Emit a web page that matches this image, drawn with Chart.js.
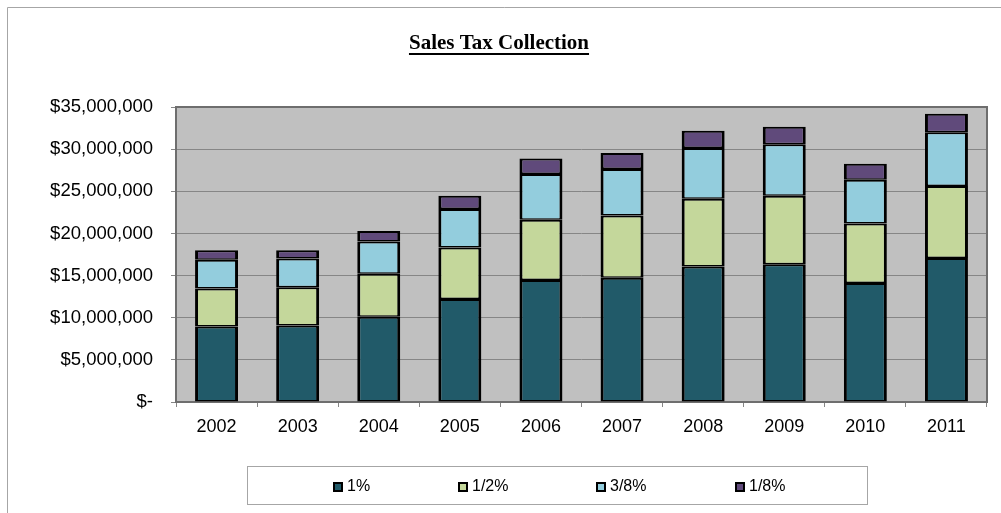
<!DOCTYPE html>
<html>
<head>
<meta charset="utf-8">
<title>Sales Tax Collection</title>
<script src="https://cdn.jsdelivr.net/npm/chart.js@4.4.0/dist/chart.umd.min.js"></script>
<style>
  html, body { margin: 0; padding: 0; background: #fff; }
  #wrap { width: 1001px; height: 513px; }
</style>
</head>
<body>
<div id="wrap"><canvas id="salesTax" width="1001" height="513"></canvas></div>
<script>
// Yearly collections by rate component (dollars)
const years = ['2002', '2003', '2004', '2005', '2006', '2007', '2008', '2009', '2010', '2011'];
const onePct = [8970000, 9090000, 10120000, 12220000, 14470000, 14750000, 16090000, 16330000, 14120000, 17080000];
const halfPct = [4510000, 4510000, 5100000, 6120000, 7160000, 7390000, 8030000, 8150000, 7070000, 8550000];
const threeEighthsPct = [3400000, 3440000, 3830000, 4560000, 5420000, 5500000, 6010000, 6090000, 5190000, 6360000];
const oneEighthPct = [1110000, 950000, 1240000, 1580000, 1850000, 1900000, 2060000, 2090000, 1890000, 2210000];
const seriesNames = ['1%', '1/2%', '3/8%', '1/8%'];
const seriesColors = ['#215a69', '#c4d79b', '#93cddd', '#604a7b'];
const yMax = 35000000;
const yStep = 5000000;

const sansFont = '"Liberation Sans", Arial, sans-serif';

function money(v) {
    if (v === 0) return '$-';
    return '$' + v.toLocaleString('en-US');
}

// Gray plot background, frame around the chart area, outer frame, title and legend box
const decorations = {
    id: 'decorations',
    beforeDraw(chart) {
        const { ctx, chartArea: a } = chart;
        ctx.save();
        ctx.fillStyle = '#c0c0c0';
        ctx.fillRect(a.left, a.top, a.right - a.left, a.bottom - a.top);

        // outer frame (left and top edges only show)
        ctx.strokeStyle = '#a6a6a6';
        ctx.lineWidth = 1;
        ctx.beginPath();
        ctx.moveTo(7.5, 513);
        ctx.lineTo(7.5, 7.5);
        ctx.lineTo(1001, 7.5);
        ctx.stroke();

        // title, bold and underlined
        ctx.fillStyle = '#000';
        ctx.font = 'bold 21px "Liberation Serif", "Times New Roman", serif';
        ctx.textAlign = 'center';
        ctx.textBaseline = 'alphabetic';
        const title = 'Sales Tax Collection';
        const tx = 499;
        ctx.fillText(title, tx, 49);
        const tw = ctx.measureText(title).width;
        ctx.fillRect(tx - tw / 2, 53, tw, 2);
        ctx.restore();
    },
    beforeDatasetsDraw(chart) {
        const { ctx, chartArea: a } = chart;
        ctx.save();
        ctx.strokeStyle = '#6e6e6e';
        ctx.lineWidth = 2;
        ctx.strokeRect(a.left, a.top, a.right - a.left, a.bottom - a.top);
        ctx.restore();
    },
    afterDraw(chart) {
        const { ctx } = chart;
        ctx.save();
        ctx.strokeStyle = '#a6a6a6';
        ctx.lineWidth = 1;
        ctx.strokeRect(247.5, 466.5, 620, 38);

        const itemX = [333, 458, 596, 735];
        ctx.font = '16px ' + sansFont;
        ctx.textAlign = 'left';
        ctx.textBaseline = 'middle';
        chart.data.datasets.forEach((ds, i) => {
            const x = itemX[i];
            ctx.fillStyle = ds.backgroundColor;
            ctx.fillRect(x, 482, 10, 10);
            ctx.strokeStyle = '#000';
            ctx.lineWidth = 2;
            ctx.strokeRect(x + 1, 483, 8, 8);
            ctx.fillStyle = '#000';
            ctx.fillText(ds.label, x + 14, 487);
        });
        ctx.restore();
    }
};

const seriesData = [onePct, halfPct, threeEighthsPct, oneEighthPct];

new Chart(document.getElementById('salesTax'), {
    type: 'bar',
    data: {
        labels: years,
        datasets: seriesData.map((vals, i) => ({
            label: seriesNames[i],
            data: vals,
            backgroundColor: seriesColors[i],
            borderColor: '#000',
            borderWidth: { top: 2, bottom: 1.5, left: 3, right: 3 },
            borderSkipped: false,
            inflateAmount: 0,
            barPercentage: 1,
            categoryPercentage: 0.53
        }))
    },
    options: {
        responsive: false,
        devicePixelRatio: 1,
        animation: false,
        layout: { padding: { left: 0, right: 14, top: 107, bottom: 0 } },
        plugins: {
            legend: { display: false },
            title: { display: false },
            tooltip: { enabled: false }
        },
        scales: {
            x: {
                stacked: true,
                grid: { offset: true, drawOnChartArea: false, tickLength: 5, color: '#868686' },
                border: { display: false },
                ticks: { color: '#000', font: { family: sansFont, size: 18 }, padding: 9 },
                afterFit: s => { s.height = 111; }
            },
            y: {
                stacked: true,
                min: 0,
                max: yMax,
                grid: { color: '#868686', tickLength: 5 },
                border: { display: false },
                ticks: {
                    stepSize: yStep,
                    color: '#000',
                    font: { family: sansFont, size: 18.5 },
                    padding: 18,
                    callback: v => money(v)
                },
                afterFit: s => { s.width = 176; }
            }
        }
    },
    plugins: [decorations]
});
</script>
</body>
</html>
